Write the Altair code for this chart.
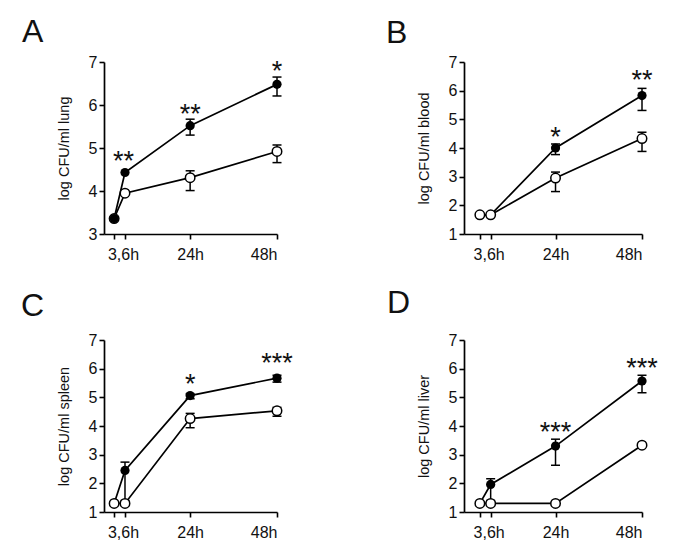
import altair as alt
import pandas as pd

times = [3, 6, 24, 48]
letters = ["A", "B", "C", "D"]
ytitles = ["log CFU/ml lung", "log CFU/ml blood", "log CFU/ml spleen", "log CFU/ml liver"]
ydomains = [[3, 7], [1, 7], [1, 7], [1, 7]]
xdomains = [[0.2, 48], [-1.4, 48], [0.2, 48], [-1.4, 48]]
widths = [173, 178, 173, 178]
letter_pos = [(-82, -20), (-78, -19), (-83, -24), (-77, -27)]
open_on_top = [False, True, True, True]

# filled (black) group: mean, lower, upper
filled_mean = [[3.36, 4.43, 5.52, 6.48], [1.67, 1.67, 4.00, 5.83],
               [1.30, 2.45, 5.06, 5.67], [1.30, 1.96, 3.30, 5.57]]
filled_lo = [[3.36, 4.43, 5.30, 6.21], [1.67, 1.67, 3.77, 5.31],
             [1.30, 1.40, 4.95, 5.53], [1.30, 1.40, 2.63, 5.16]]
filled_hi = [[3.36, 4.43, 5.67, 6.65], [1.67, 1.67, 4.14, 6.08],
             [1.30, 2.74, 5.12, 5.77], [1.30, 2.16, 3.54, 5.77]]
# open (white) group
open_mean = [[3.36, 3.95, 4.31, 4.92], [1.67, 1.67, 2.95, 4.33],
             [1.30, 1.30, 4.26, 4.53], [1.30, 1.30, 1.30, 3.33]]
open_lo = [[3.36, 3.95, 4.01, 4.66], [1.67, 1.67, 2.48, 3.88],
           [1.30, 1.30, 3.94, 4.34], [1.30, 1.30, 1.30, 3.33]]
open_hi = [[3.36, 3.95, 4.47, 5.07], [1.67, 1.67, 3.16, 4.55],
           [1.30, 1.30, 4.44, 4.65], [1.30, 1.30, 1.30, 3.33]]

# significance stars: time, value, label
star_time = [[5.6, 24, 48], [24, 48], [24, 48], [24, 48]]
star_val = [[4.84, 5.93, 6.92], [4.58, 6.57], [5.67, 6.40], [4.01, 6.24]]
star_lab = [["**", "**", "*"], ["*", "**"], ["*", "***"], ["***", "***"]]

FONT = "Liberation Sans"


def panel(i):
    rows = []
    for g, m, lo, hi in (("filled", filled_mean[i], filled_lo[i], filled_hi[i]),
                         ("open", open_mean[i], open_lo[i], open_hi[i])):
        for t, a, b, c in zip(times, m, lo, hi):
            rows.append({"group": g, "time": t, "mean": a, "lo": b, "hi": c})
    df = pd.DataFrame(rows)
    err = df[df["hi"] > df["lo"]]

    xaxis = alt.Axis(values=times, title=None, grid=False, tickSize=5, labelPadding=7,
                     labelExpr="datum.value == 6 ? '3,6h' : datum.value == 3 ? '' : datum.value + 'h'",
                     labelOffset={"condition": {"test": "datum.value == 6", "value": -2}, "value": 0})
    yaxis = alt.Axis(values=list(range(ydomains[i][0], ydomains[i][1] + 1)), title=ytitles[i],
                     grid=False, tickSize=5, labelPadding=2, titlePadding=17)

    def X(f):
        return alt.X(f, type="quantitative", scale=alt.Scale(domain=xdomains[i], nice=False, zero=False), axis=xaxis)

    def Y(f):
        return alt.Y(f, type="quantitative", scale=alt.Scale(domain=ydomains[i], nice=False, zero=False), axis=yaxis)

    base = alt.Chart(df)
    lines = base.mark_line(color="black", strokeWidth=1.7).encode(x=X("time"), y=Y("mean"), detail="group:N")
    ebase = alt.Chart(err)
    bars = ebase.mark_rule(color="black", strokeWidth=1.5).encode(x=X("time"), y=Y("lo"), y2="hi")
    cap_hi = ebase.mark_tick(orient="horizontal", size=9, thickness=1.5, color="black", opacity=1).encode(x=X("time"), y=Y("hi"))
    cap_lo = ebase.mark_tick(orient="horizontal", size=9, thickness=1.5, color="black", opacity=1).encode(x=X("time"), y=Y("lo"))
    filled_pts = base.transform_filter("datum.group == 'filled'").mark_circle(
        size=85, color="black", opacity=1).encode(x=X("time"), y=Y("mean"))
    open_pts = base.transform_filter("datum.group == 'open'").mark_point(
        shape="circle", filled=True, fill="white", stroke="black", strokeWidth=1.5, size=90, opacity=1
    ).encode(x=X("time"), y=Y("mean"))
    sdf = pd.DataFrame({"time": star_time[i], "val": star_val[i], "lab": star_lab[i]})
    stars = alt.Chart(sdf).mark_text(font=FONT, fontSize=27, color="#111", baseline="alphabetic",
                                     align="center", dy=15).encode(x=X("time"), y=Y("val"), text="lab:N")
    lx, ly = letter_pos[i]
    letter = alt.Chart(pd.DataFrame({"t": [letters[i]]})).mark_text(
        font=FONT, fontSize=32, color="#111", align="left", baseline="alphabetic"
    ).encode(x=alt.value(lx), y=alt.value(ly), text="t:N")
    pts = [open_pts, filled_pts] if not open_on_top[i] else [filled_pts, open_pts]
    return alt.layer(lines, bars, cap_hi, cap_lo, *pts, stars, letter).properties(width=widths[i], height=172)


chart = alt.concat(*[panel(i) for i in range(4)], columns=2, spacing={"row": 106, "column": 187},
                   bounds="flush").properties(
    padding={"left": 13, "top": 8, "right": 5, "bottom": 5}, background="white"
).configure_view(stroke=None).configure_axis(
    domainColor="black", domainWidth=1.7, tickColor="black", tickWidth=1.6,
    labelFont=FONT, labelFontSize=16, labelColor="#111",
    titleFont=FONT, titleFontSize=14.5, titleFontWeight="normal", titleColor="#111"
)

chart.save("out.html", embed_options={"renderer": "svg", "actions": False})
